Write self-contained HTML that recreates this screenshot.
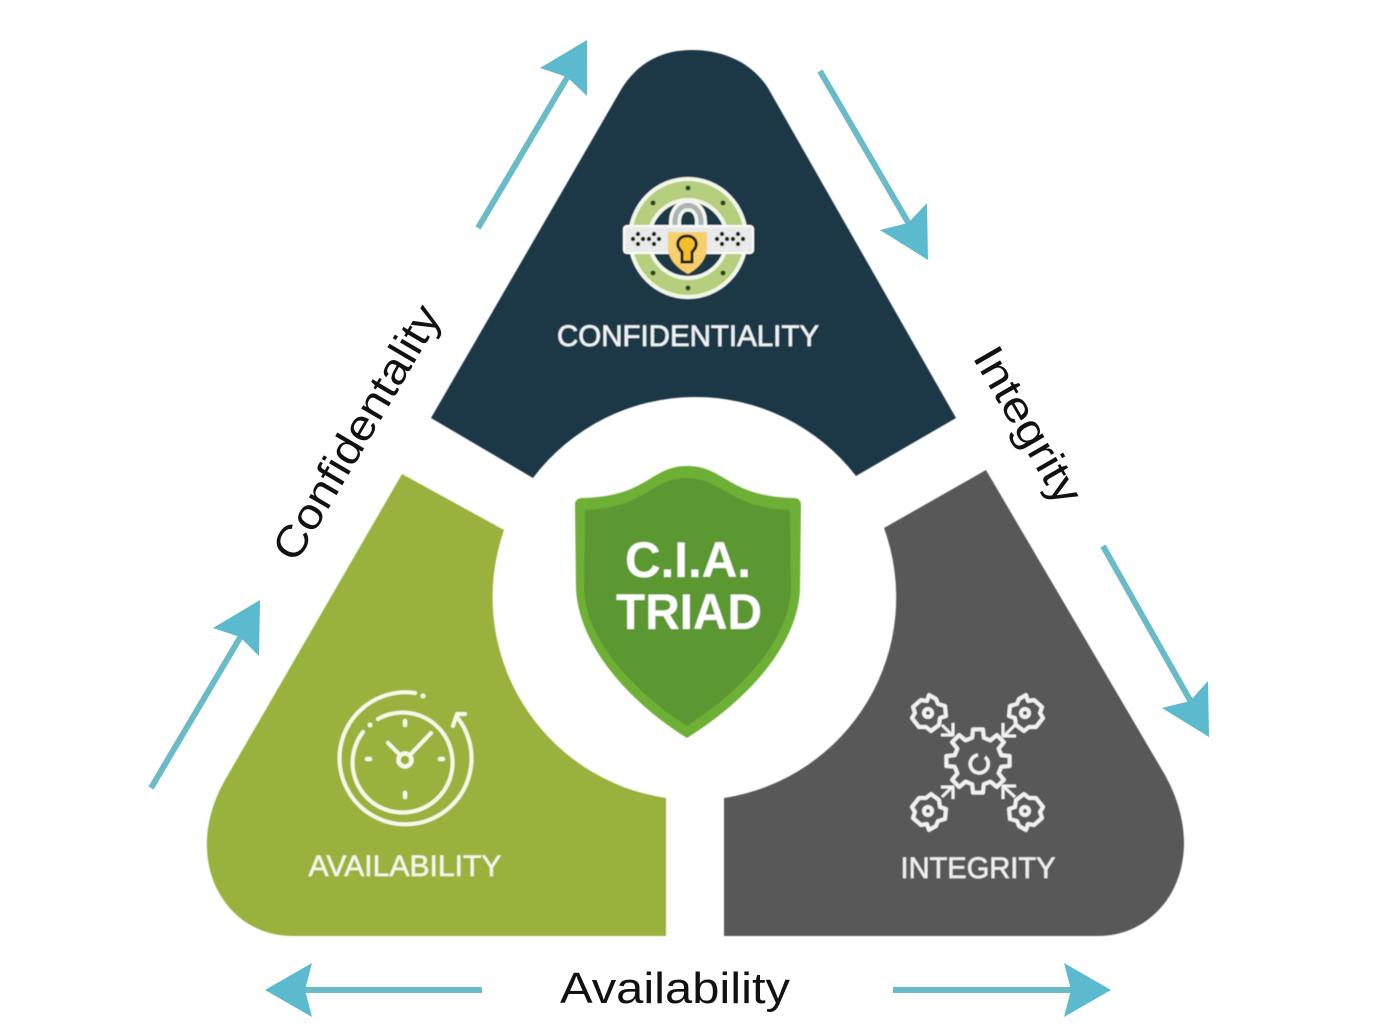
<!DOCTYPE html>
<html>
<head>
<meta charset="utf-8">
<style>
html,body{margin:0;padding:0;background:#fff;width:1396px;height:1036px;overflow:hidden}
svg{display:block;font-family:"Liberation Sans",sans-serif}
</style>
</head>
<body>
<svg width="1396" height="1036" viewBox="0 0 1396 1036" xmlns="http://www.w3.org/2000/svg">
<defs>
<filter id="b" x="-5%" y="-5%" width="110%" height="110%"><feGaussianBlur stdDeviation="0.6"/></filter>
</defs>
<g filter="url(#b)">
<!-- segments -->
<path d="M431 418L622 88C640 60 665 50 692 50C720 50 750 60 768 88L956 418L856 476A203 203 0 0 0 533 478Z" fill="#1d3746"/>
<path d="M402 474L504 530A203 203 0 0 0 666 798L666 936L292 936C225 936 180 860 225 780Z" fill="#98b23c"/>
<path d="M986 470L884 528A203 203 0 0 1 724 798L724 936L1098 936C1165 936 1212 860 1165 775Z" fill="#595959"/>

<!-- shield -->
<path d="M687 466C725 466 728 497 795 498Q801 499 801 505L800 590C797 650 740 705 687 738C634 705 580 650 576 590L575 505Q575 499 581 498C648 497 650 466 687 466Z" fill="#6eb034"/>
<path d="M687 478C722 478 730 508 790 510L791 590C788 645 735 695 687 726C639 695 587 645 584 590L585 510C645 508 652 478 687 478Z" fill="#5c9830"/>
<text x="688" y="577" font-size="50" font-weight="bold" fill="#fff" text-anchor="middle" textLength="126" lengthAdjust="spacingAndGlyphs">C.I.A.</text>
<text x="689" y="629" font-size="50" font-weight="bold" fill="#fff" text-anchor="middle" textLength="146" lengthAdjust="spacingAndGlyphs">TRIAD</text>

<!-- segment labels -->
<text x="688" y="346" font-size="30" fill="#eef2f4" stroke="#eef2f4" stroke-width="0.5" text-anchor="middle" textLength="262" lengthAdjust="spacingAndGlyphs">CONFIDENTIALITY</text>
<text x="405" y="876" font-size="30" fill="#f3f6e6" stroke="#f3f6e6" stroke-width="0.5" text-anchor="middle" textLength="193" lengthAdjust="spacingAndGlyphs">AVAILABILITY</text>
<text x="978" y="878" font-size="30" fill="#eeeeee" stroke="#eeeeee" stroke-width="0.5" text-anchor="middle" textLength="155" lengthAdjust="spacingAndGlyphs">INTEGRITY</text>

<!-- lock icon -->
<g>
<ellipse cx="688" cy="238" rx="58" ry="59" fill="#b5cf7e" stroke="#f3f6ea" stroke-width="4"/>
<circle cx="688" cy="239" r="39" fill="#1d3746" stroke="#f3f6ea" stroke-width="4"/>
<g fill="#26401f"><circle cx="688" cy="188" r="2.5"/><circle cx="653" cy="203" r="2.5"/><circle cx="723" cy="203" r="2.5"/><circle cx="653" cy="273" r="2.5"/><circle cx="723" cy="273" r="2.5"/><circle cx="688" cy="288" r="2.5"/></g>
<path d="M675 236V222C675 200 701 200 701 222V236" fill="none" stroke="#f3f6ea" stroke-width="12"/>
<path d="M675 236V222C675 200 701 200 701 222V236" fill="none" stroke="#aab2b8" stroke-width="5"/>
<path d="M682 232V222C682 214 694 214 694 222V232Z" fill="#1d3746"/>
<rect x="624" y="226" width="129" height="27" rx="3" fill="#e9eaea" stroke="#fbfbfb" stroke-width="2"/>
<path d="M668 232C680 232 696 232 707 232V250C705 262 697 269 688 274C679 269 670 262 668 250Z" fill="#f7cf6c"/>
<path d="M687 236C694 236 697 241 696 246C695 249 693 251 692 252V262H682V252C681 251 679 249 678 246C677 241 680 236 687 236Z" fill="#f5bf2c" stroke="#1a1a1a" stroke-width="3"/>
<g fill="#1c1c1c">
<circle cx="638" cy="234" r="2.2"/><circle cx="638" cy="244" r="2.2"/><circle cx="633" cy="239" r="2.2"/><circle cx="643" cy="239" r="2.2"/>
<circle cx="654" cy="234" r="2.2"/><circle cx="654" cy="244" r="2.2"/><circle cx="649" cy="239" r="2.2"/><circle cx="659" cy="239" r="2.2"/>
<circle cx="722" cy="234" r="2.2"/><circle cx="722" cy="244" r="2.2"/><circle cx="717" cy="239" r="2.2"/><circle cx="727" cy="239" r="2.2"/>
<circle cx="738" cy="234" r="2.2"/><circle cx="738" cy="244" r="2.2"/><circle cx="733" cy="239" r="2.2"/><circle cx="743" cy="239" r="2.2"/>
</g>
</g>

<!-- clock icon -->
<g fill="none" stroke="#f6f9e8" stroke-width="4" stroke-linecap="round" stroke-linejoin="round">
<path d="M415 693A66 66 0 1 0 457 717"/>
<circle cx="423" cy="696" r="1.5" fill="#f6f9e8" stroke-width="2"/>
<path d="M378 719A50 50 0 1 1 363 732"/>
<circle cx="370" cy="725" r="1.5" fill="#f6f9e8" stroke-width="2"/>
<path d="M457 714H465M457 714L453 726"/>
<path d="M431 733L410 755M388 743L400 755"/>
<circle cx="405" cy="760" r="6.5" stroke-width="4.5"/>
<path d="M405 721V725M405 793V797M367 759H370M440 759H443" stroke-width="4.5"/>
</g>

<!-- gears icon -->
<g fill="none" stroke="#f1f1f1" stroke-width="4" stroke-linejoin="round">
<path transform="translate(978,761)" d="M23.3 -5.8L31.6 -5L31.6 5L23.3 5.8L20.6 12.4L25.9 18.8L18.8 25.9L12.4 20.6L5.8 23.3L5 31.6L-5 31.6L-5.8 23.3L-12.4 20.6L-18.8 25.9L-25.9 18.8L-20.6 12.4L-23.3 5.8L-31.6 5L-31.6 -5L-23.3 -5.8L-20.6 -12.4L-25.9 -18.8L-18.8 -25.9L-12.4 -20.6L-5.8 -23.3L-5 -31.6L5 -31.6L5.8 -23.3L12.4 -20.6L18.8 -25.9L25.9 -18.8L20.6 -12.4Z"/>
<path d="M985 757a9 9 0 1 1-7-2" stroke-width="3.5"/>
<path d="M929 695l7 4 2 5 7 2 1 10-6 2-1 7-8 6-5-4-7 0-7-9 3-5-2-6 8-7 6 1Z"/><circle cx="928" cy="713" r="4"/>
<path d="M1026 695l-7 4-2 5-7 2-1 10 6 2 1 7 8 6 5-4 7 0 7-9-3-5 2-6-8-7-6 1Z"/><circle cx="1025" cy="713" r="4"/>
<path d="M929 830l7-4 2-5 7-2 1-10-6-2-1-7-8-6-5 4-7 0-7 9 3 5-2 6 8 7 6-1Z"/><circle cx="928" cy="811" r="4"/>
<path d="M1026 830l-7-4-2-5-7-2-1-10 6-2 1-7 8-6 5 4 7 0 7 9-3 5 2 6-8 7-6-1Z"/><circle cx="1025" cy="811" r="4"/>
<path d="M942 725L952 735M941 735H953V723M1015 725L1004 736M1003 723V736H1016M942 797L952 787M941 787H953V799M1015 797L1004 787M1003 799V786H1016" stroke-width="3"/>
</g>
</g>

<!-- arrows -->
<g stroke="#69bbc7" stroke-width="6" fill="none">
<line x1="478" y1="228" x2="568" y2="76"/>
<line x1="820" y1="71" x2="909" y2="224"/>
<line x1="1103" y1="546" x2="1191" y2="702"/>
<line x1="151" y1="788" x2="241" y2="636"/>
<line x1="482" y1="990" x2="303" y2="990"/>
<line x1="893" y1="990" x2="1073" y2="990"/>
</g>
<g fill="#5bbacd">
<path d="M587 40L587 96L567 77L540 68Z"/>
<path d="M928 260L927 203L908 223L880 230Z"/>
<path d="M1209 737L1208 681L1190 701L1162 708Z"/>
<path d="M260 600L259 656L240 637L213 628Z"/>
<path d="M265 990L312 963L305 990L312 1017Z"/>
<path d="M1111 990L1064 963L1071 990L1064 1017Z"/>
</g>

<!-- outer labels -->
<text transform="translate(296,564) rotate(-59.5)" x="0" y="0" font-size="43" fill="#111" textLength="288" lengthAdjust="spacingAndGlyphs">Confidentality</text>
<text transform="translate(972,357) rotate(60)" x="0" y="0" font-size="43" fill="#111" textLength="174" lengthAdjust="spacingAndGlyphs">Integrity</text>
<text x="560" y="1003" font-size="44" fill="#111" textLength="230" lengthAdjust="spacingAndGlyphs">Availability</text>
</svg>
</body>
</html>
